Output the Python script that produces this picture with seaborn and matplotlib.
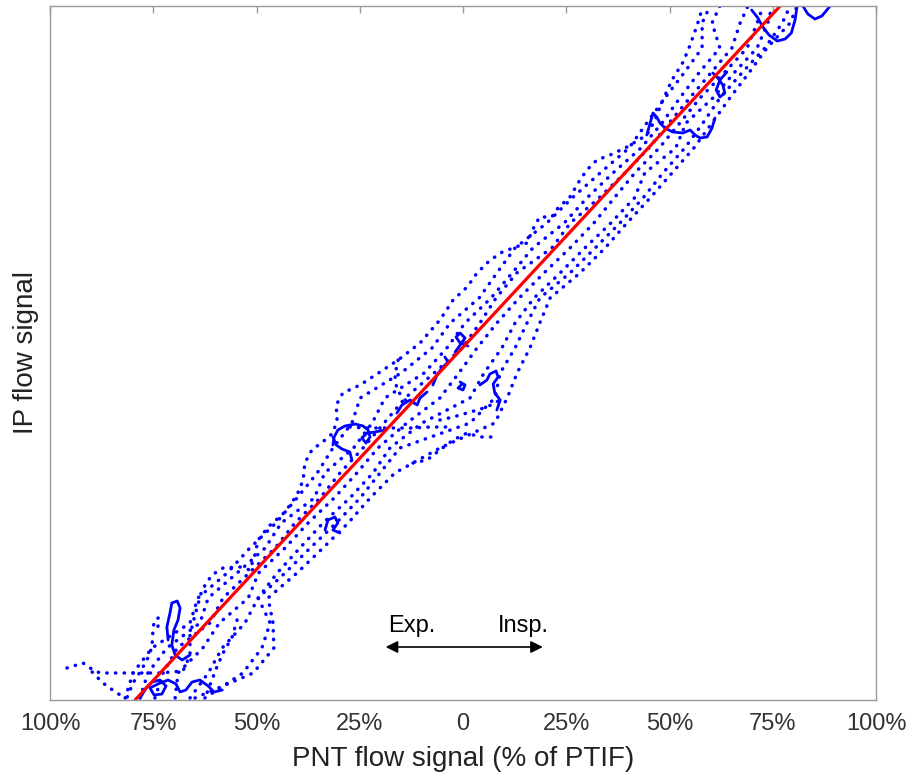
import matplotlib
matplotlib.use("Agg")
import matplotlib.pyplot as plt
import seaborn as sns

sns.set_style("white")
plt.rcParams['font.family'] = ['Liberation Sans', 'DejaVu Sans']

# ---------------- data (x: PNT flow, % of PTIF ; y: IP flow, arbitrary units) ----------------
# shared flow levels for the long breath passes
levels_y = [-346, -321, -296, -271, -246, -221, -196, -171, -146, -121, -96, -71, -46, -21, 4,
            29, 54, 79, 104, 129, 154, 179, 204, 229, 254, 279, 304, 329, 346]

pass2_x = [-81.8, -79.9, -75.3, -66.1, -64.2, -57.1, -51.6, -45.3, -40.2, -35.3, -31.5, -26.9, -24.9,
           -15.0, -7.5, -3.1, 3.9, 8.2, 12.6, 20.3, 26.4, 33.2, 40.2, 44.5, 48.9, 53.5, 57.9, 57.9, 59.8]
pass3_x = [-78.2, -76.3, -71.7, -63.7, -61.7, -54.7, -47.9, -44.0, -36.0, -33.5, -26.5, -22.0, -18.9,
           -9.4, -3.9, 0.5, 6.8, 11.9, 16.9, 24.5, 30.0, 36.3, 43.1, 48.2, 52.5, 57.1, 62.2, 60.3, 62.2]
pass4_x = [-74.6, -72.6, -69.2, -61.3, -58.1, -51.8, -45.5, -40.7, -34.6, -29.8, -24.2, -19.1, -14.0,
           -7.0, -0.2, 4.1, 8.0, 13.0, 21.5, 26.0, 32.9, 39.2, 45.0, 49.9, 54.9, 60.0, 65.1, 67.1, 69.0]
pass5_x = [-69.7, -69.0, -63.0, -59.0, -52.0, -49.5, -43.1, -37.5, -31.2, -25.7, -20.6, -13.6, -5.6,
           -1.0, 3.4, 8.2, 13.6, 19.6, 25.9, 31.7, 36.6, 41.6, 47.5, 52.5, 57.4, 63.2, 68.8, 71.2, 72.7]
pass6_x = [-66.1, -61.7, -58.3, -52.8, -49.6, -45.0, -39.5, -33.9, -27.4, -21.8, -17.7, -9.9, 1.7,
           5.1, 9.4, 12.6, 17.2, 23.5, 29.5, 35.8, 41.5, 44.0, 51.5, 54.0, 60.5, 65.6, 71.2, 73.8, 74.8]
pass7_x = [-62.5, -53.3, -48.7, -46.7, -49.6, -43.1, -37.0, -30.7, -24.9, -20.1, -15.3, 1.7, 7.7,
           9.0, 12.6, 15.5, 18.6, 25.9, 32.0, 38.0, 43.6, 48.4, 53.7, 58.1, 62.2, 67.5, 73.1, 77.3, 79.2]
pass8_x = [-64.9, -50.8, -45.8, -46.0, -47.2, -40.2, -33.9, -27.8, -22.5, -16.5, -5.6, 7.7, 10.7,
           13.1, 16.2, 18.6, 21.1, 28.3, 34.4, 39.7, 45.3, 50.6, 55.9, 60.3, 64.6, 69.2, 73.6, 79.2, 80.9]

# outermost expiratory trace (upper-left edge, with the low-flow tail)
outer_x = [-95.9, -92.0, -90.3, -87.9, -80.6, -73.4, -67.8, -66.1, -66.1, -64.9, -63.2, -60.8, -58.1,
           -54.0, -51.6, -50.4, -49.6, -47.2, -43.1, -40.2, -38.7, -38.3, -36.6, -33.4, -31.5, -30.5,
           -30.7, -29.1, -24.9, -20.1, -15.7, -10.4, -5.6, -2.4, 1.0, 3.4, 6.1, 9.0, 12.1, 15.5, 17.4,
           18.6, 21.5, 23.0, 25.9, 28.3, 30.0, 32.4, 35.6, 39.7, 44.5, 46.5, 48.4, 50.6, 53.3, 55.0,
           56.7, 58.1]
outer_y = [-316, -311, -316, -321, -321, -321, -319, -303, -283, -263, -238, -223, -216, -215, -218,
           -203, -188, -175, -160, -143, -128, -111, -98, -88, -81, -68, -53, -41, -33, -20, -8, 9,
           32, 52, 65, 79, 90, 99, 104, 109, 127, 135, 135, 144, 155, 172, 182, 192, 197, 205, 217,
           232, 252, 272, 290, 307, 327, 346]

hook_x = [-81.3, -79.9, -78.2, -76.5, -75.3, -75.1, -74.8, -73.8, -73.6, -74.3]
hook_y = [-345, -331, -320, -308, -295, -280, -269, -266, -272, -278]
tail_x = [-89.8, -87.2, -83.8, -81.8]
tail_y = [-320, -331, -341, -346]

# shorter dotted pieces around the zero-flow crossing and the low-flow end
short_segments = {
    "center_bottom": ([-12.1, -8.7, -5.6, -2.4, 1.0, 4.1, 7.3], [-111, -108, -98, -88, -81, -85, -85]),
    "center_mid": ([-5.6, -2.4, 1.0, 5.8, 9.0], [-68, -65, -61, -55, -48]),
    "center_top": ([-27.4, -23.7, -20.1, -16.0, -12.1, -8.0, -3.9], [-75, -76, -76, -76, -76, -75, -75]),
    "center_ring": ([-15.7, -16.5, -16.0, -14.0, -10.4], [-8, -23, -38, -48, -53]),
    "low_right": ([-54.7, -55.9, -58.1, -59.6, -60.8, -62.0], [-268, -285, -301, -315, -328, -341]),
}

# slow (dense) segments
slow_segments = {
    "bottom_cluster": ([-78.2, -76.7, -75.3, -73.4, -71.9, -72.9, -74.8, -75.8, -73.9, -71.4, -69.5,
                        -68.5, -67.1, -65.6, -63.7, -61.7, -60.3, -58.3],
                       [-346, -336, -330, -328, -334, -342, -343, -336, -332, -328, -332, -340, -338,
                        -330, -328, -334, -340, -338]),
    "low_loop": ([-71.4, -71.7, -70.9, -70.5, -69.2, -68.5, -69.0, -70.0, -70.5, -69.7, -68.0, -66.1],
                 [-288, -275, -260, -251, -249, -256, -268, -278, -293, -303, -308, -303]),
    "mid_low_loop": ([-33.4, -32.7, -31.0, -30.3, -31.5, -29.8],
                     [-178, -168, -165, -171, -178, -181]),
    "center_loop": ([-31.5, -31.2, -30.3, -28.6, -26.1, -24.2, -23.0, -22.5, -23.5, -24.5, -23.2, -21.3, -18.9],
                    [-93, -85, -78, -74, -72, -74, -78, -85, -91, -86, -81, -80, -78]),
    "center_left": ([-31.5, -30.7, -29.3, -27.4, -26.9], [-85, -93, -97, -100, -108]),
    "center_kink": ([-16.0, -14.8, -12.8, -11.1, -10.4, -8.7], [-61, -53, -48, -53, -46, -40]),
    "zero_knot": ([-1.9, -0.7, 0.5, -0.7, -1.7, -0.7, 1.2], [0, 7, 14, 19, 15, 9, 6]),
    "zero_step": ([-7.3, -6.3, -5.1, -3.6, -4.4], [-33, -23, -16, -10, -5]),
    "right_hook": ([4.1, 5.8, 6.5, 8.0, 8.5, 7.3, 7.7, 9.0, 8.2], [-33, -28, -22, -19, -25, -32, -41, -48, -58]),
    "blob": ([-0.7, 0.5, 0.0, -1.2, -0.2], [-30, -33, -38, -36, -32]),
    "upper_wave": ([44.5, 46.0, 46.9, 47.7, 48.9, 50.8, 53.3, 55.0, 56.2, 57.4, 59.1, 60.3, 61.0],
                   [217, 239, 235, 229, 224, 220, 219, 222, 217, 214, 215, 224, 234]),
    "upper_loop": ([60.5, 61.7, 62.9, 63.4, 62.2, 61.3, 62.2, 63.9], [279, 274, 267, 259, 255, 262, 272, 280]),
    "top_u": ([80.9, 80.4, 79.5, 78.0, 76.1, 74.1, 72.6, 71.4, 69.9], [346, 332, 319, 313, 311, 317, 325, 334, 342]),
    "top_arc": ([82.3, 83.5, 85.2, 86.9, 88.9], [346, 338, 333, 336, 346]),
}

fit_x = [-79.4, 76.8]
fit_y = [-348, 346]

tick_pos = [-100, -75, -50, -25, 0, 25, 50, 75, 100]
tick_lbl = ['100%', '75%', '50%', '25%', '0', '25%', '50%', '75%', '100%']

# ---------------- figure ----------------
fig = plt.figure(figsize=(9.11, 7.78), dpi=100)
ax = fig.add_axes([50 / 911, 78 / 778, 826 / 911, 694 / 778])

blue = '#0000ff'
dot_kw = dict(color=blue, linewidth=2.5, linestyle=(0, (0.1, 2.4)), dash_capstyle='round',
              sort=False, estimator=None, legend=False)

for px in [pass2_x, pass3_x, pass4_x, pass5_x, pass6_x, pass7_x, pass8_x]:
    sns.lineplot(x=px, y=levels_y, ax=ax, **dot_kw)
sns.lineplot(x=outer_x, y=outer_y, ax=ax, **dot_kw)
sns.lineplot(x=hook_x, y=hook_y, ax=ax, **dot_kw)
sns.lineplot(x=tail_x, y=tail_y, ax=ax, **dot_kw)
for name, (sx, sy) in short_segments.items():
    sns.lineplot(x=sx, y=sy, ax=ax, **dot_kw)

for name, (sx, sy) in slow_segments.items():
    sns.lineplot(x=sx, y=sy, ax=ax, color=blue, linewidth=2.0, sort=False, estimator=None, legend=False)

sns.lineplot(x=fit_x, y=fit_y, ax=ax, color='#ff0000', linewidth=2.3, sort=False, estimator=None, legend=False)

# direction annotation
ax.annotate('', xy=(-19.4, -295), xytext=(20.0, -295),
            arrowprops=dict(arrowstyle='<|-|>', color='black', lw=1.2, mutation_scale=18))
ax.text(-18.2, -280, 'Exp.', fontsize=17, ha='left', va='baseline', color='black')
ax.text(20.8, -280, 'Insp.', fontsize=17, ha='right', va='baseline', color='black')

ax.set_xlim(-100, 100)
ax.set_ylim(-348, 346)
ax.set_xticks(tick_pos)
ax.set_xticklabels(tick_lbl)
ax.set_yticks([])
ax.tick_params(axis='x', direction='in', top=True, length=5, width=1, color='#999999',
               labelsize=17, labelcolor='#333333', pad=9)
for s in ax.spines.values():
    s.set_color('#999999')
    s.set_linewidth(1)
ax.set_xlabel('PNT flow signal (% of PTIF)', fontsize=20, color='#222222', labelpad=8)
ax.set_ylabel('IP flow signal', fontsize=20, color='#222222', labelpad=8)

fig.savefig('out.png', dpi=100)
